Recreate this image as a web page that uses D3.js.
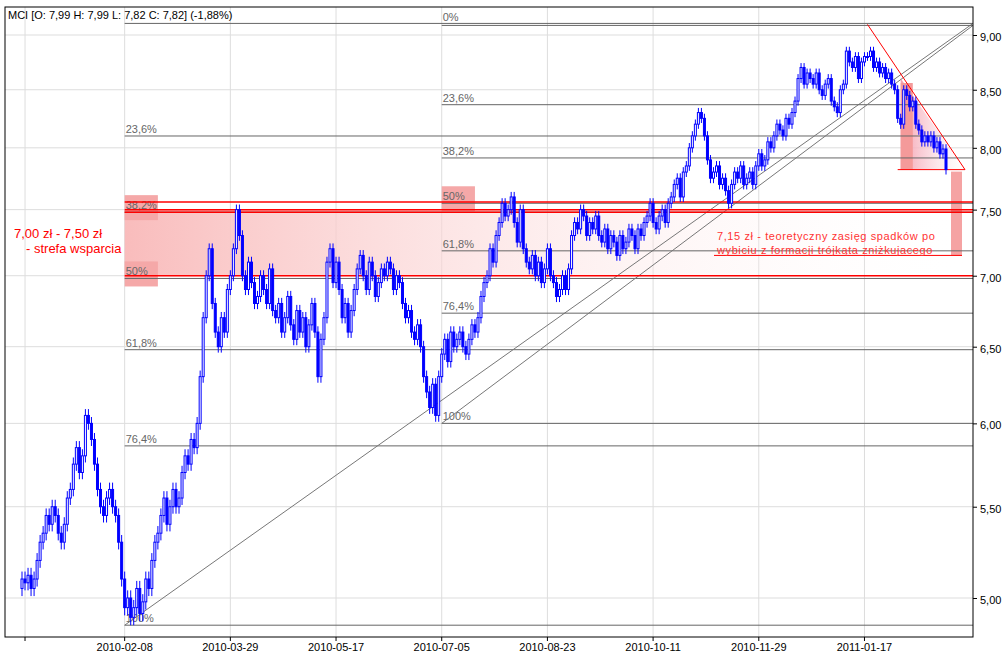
<!DOCTYPE html>
<html><head><meta charset="utf-8">
<script src="https://cdn.jsdelivr.net/npm/d3@7"></script>
<style>body{margin:0;background:#fff}text{font-family:"Liberation Sans",Arial,sans-serif}</style>
</head><body><svg id="c" width="1008" height="657"></svg>
<script>
// daily closes, first day 2009-12-22
var closes = [
5.10,5.08,5.12,5.05,5.10,5.20,5.30,5.35,5.45,5.40,
5.50,5.45,5.35,5.30,5.40,5.55,5.60,5.75,5.85,5.70,
5.80,6.05,6.00,5.90,5.75,5.60,5.50,5.45,5.55,5.60,
5.50,5.45,5.30,5.10,4.95,5.00,4.90,4.95,5.05,4.92,
4.98,5.10,5.05,5.20,5.30,5.35,5.45,5.55,5.40,5.50,
5.60,5.50,5.55,5.70,5.80,5.75,5.90,5.85,6.00,6.30,
6.70,7.00,7.20,6.80,6.60,6.50,6.70,6.60,6.90,7.00,
7.20,7.50,7.30,7.00,6.90,7.10,6.95,6.80,6.85,7.00,
6.90,6.80,7.05,6.75,6.70,6.80,6.60,6.70,6.85,6.65,
6.55,6.75,6.60,6.70,6.50,6.65,6.80,6.60,6.30,6.55,
6.70,7.10,7.20,6.95,7.10,6.90,6.70,6.80,6.60,6.75,
6.90,7.05,7.15,7.00,6.90,7.10,7.00,6.85,6.95,7.05,
7.00,7.10,7.05,6.90,7.00,6.95,6.80,6.70,6.75,6.60,
6.55,6.65,6.50,6.30,6.20,6.10,6.25,6.05,6.30,6.45,
6.55,6.40,6.60,6.50,6.55,6.60,6.50,6.45,6.55,6.65,
6.60,6.70,6.85,6.95,7.00,7.20,7.10,7.30,7.40,7.55,
7.45,7.50,7.60,7.40,7.25,7.50,7.20,7.10,7.05,7.15,
7.00,7.10,6.95,7.05,7.20,7.00,6.95,6.85,6.90,7.00,
6.90,7.05,7.30,7.40,7.35,7.50,7.45,7.30,7.40,7.35,
7.45,7.30,7.25,7.35,7.20,7.30,7.25,7.15,7.30,7.20,
7.25,7.35,7.30,7.20,7.35,7.30,7.40,7.45,7.55,7.40,
7.35,7.45,7.50,7.40,7.55,7.60,7.70,7.75,7.60,7.80,
7.85,8.00,8.10,8.20,8.30,8.25,8.10,7.90,7.75,7.80,
7.85,7.70,7.75,7.65,7.55,7.70,7.80,7.75,7.85,7.70,
7.75,7.80,7.70,7.85,7.95,7.85,7.90,8.05,8.00,8.10,
8.20,8.15,8.10,8.25,8.20,8.30,8.40,8.60,8.70,8.55,
8.65,8.60,8.55,8.65,8.50,8.45,8.55,8.60,8.40,8.35,
8.30,8.50,8.55,8.85,8.75,8.70,8.80,8.60,8.75,8.80,
8.80,8.85,8.70,8.75,8.65,8.70,8.60,8.65,8.55,8.50,
8.25,8.20,8.50,8.45,8.35,8.40,8.20,8.15,8.05,8.10,
8.05,8.10,8.00,8.05,7.95,7.99,7.82];
var firstOpen = 5.05;
var wick = 0.04;
var tickLabels = ["", "2010-02-08","2010-03-29","2010-05-17","2010-07-05","2010-08-23","2010-10-11","2010-11-29","2011-01-17"];
var tickIndex = [1, 34, 69, 104, 139, 174, 209, 244, 279];
var priceTicks = [5.0,5.5,6.0,6.5,7.0,7.5,8.0,8.5,9.0];
var fibLevels = [0, 0.236, 0.382, 0.5, 0.618, 0.764, 1];
var fibA = {start: 34, low: 4.86, high: 9.1, labels: ["", "23,6%","38,2%","50%","61,8%","76,4%","100%"]};
var fibB = {start: 139, low: 6.0, high: 9.1, labels: ["0%","23,6%","38,2%","50%","61,8%","76,4%","100%"]};
var zone = [7.0, 7.5];
var target = 7.15;

var svg = d3.select("#c");
var L = 5, R = 973, T = 7, B = 637;
var x = d3.scaleLinear().domain([0, 306]).range([22, 946]);
var y = d3.scaleLog().domain([5, 9]).range([598, 35]);
var fmt = function(v){ return d3.format(".2f")(v).replace(".", ","); };

var defs = svg.append("defs");
var g1 = defs.append("linearGradient").attr("id","zoneG");
g1.append("stop").attr("offset","0%").attr("stop-color","#f9bcbc");
g1.append("stop").attr("offset","100%").attr("stop-color","#fff").attr("stop-opacity",0);
var g2 = defs.append("linearGradient").attr("id","triG");
g2.append("stop").attr("offset","0%").attr("stop-color","#f4a0b0");
g2.append("stop").attr("offset","100%").attr("stop-color","#fff").attr("stop-opacity",0.3);

// grid
svg.selectAll(".hg").data(priceTicks).enter().append("line")
  .attr("x1",L).attr("x2",R).attr("y1",d=>y(d)).attr("y2",d=>y(d)).attr("stroke","#ddd");
svg.selectAll(".vg").data(tickIndex).enter().append("line")
  .attr("x1",d=>x(d)).attr("x2",d=>x(d)).attr("y1",T).attr("y2",B).attr("stroke","#ddd");

// support zone
svg.append("rect").attr("x",x(34)).attr("width",R-x(34)).attr("y",y(zone[1])).attr("height",y(zone[0])-y(zone[1])).attr("fill","url(#zoneG)");
[[34,0.382,fibA],[34,0.5,fibA],[139,0.5,fibB]].forEach(function(b){
  var f=b[2], p=f.high-b[1]*(f.high-f.low);
  svg.append("rect").attr("x",x(b[0])).attr("y",y(p)-17).attr("width",x(b[0]+11)-x(b[0])).attr("height",25).attr("fill","#f5a8a8");
});

// triangle fill
var triTop = 9.1, triBase = 7.82;
svg.append("path").attr("d","M"+x(291)+","+y(8.6)+"L"+(R-8)+","+y(triBase)+"L"+x(291)+","+y(triBase)+"Z").attr("fill","url(#triG)");
svg.append("rect").attr("x",x(291)).attr("width",x(295)-x(291)).attr("y",y(8.56)).attr("height",y(triBase)-y(8.56)).attr("fill","#f49a9a");
svg.append("rect").attr("x",R-22).attr("width",11).attr("y",y(triBase)+2).attr("height",y(target)-y(triBase)-2).attr("fill","#f5a3a3");

// fib retracements
[fibA, fibB].forEach(function(f, k){
  fibLevels.forEach(function(lv, i){
    var p = f.high - lv*(f.high - f.low);
    svg.append("line").attr("x1",x(f.start)).attr("x2",R).attr("y1",y(p)+(lv===0?k*2-1:0)).attr("y2",y(p)+(lv===0?k*2-1:0)).attr("stroke","#666");
    svg.append("text").attr("x",x(f.start)+1).attr("y",y(p)-3).attr("font-size",11).attr("fill","#666").text(f.labels[i]);
  });
  svg.append("line").attr("x1",x(f.start)).attr("y1",y(f.low)).attr("x2",R).attr("y2",y(f.high)+k*2-1).attr("stroke","#777");
});

// red lines
[7.0, 7.48, 7.5, 7.56].forEach(function(p){
  svg.append("line").attr("x1",x(34)).attr("x2",R).attr("y1",y(p)).attr("y2",y(p)).attr("stroke","#f00").attr("stroke-width",1.5);
});
svg.append("line").attr("x1",x(280)).attr("y1",y(triTop)).attr("x2",R-8).attr("y2",y(triBase)).attr("stroke","#f00");
svg.append("line").attr("x1",x(290)).attr("x2",R-8).attr("y1",y(triBase)).attr("y2",y(triBase)).attr("stroke","#f00");
svg.append("line").attr("x1",714).attr("x2",R-11).attr("y1",y(target)).attr("y2",y(target)).attr("stroke","#f00");

// candles
var data = closes.map(function(c,i){
  var o = i ? closes[i-1] : firstOpen;
  return {i:i, o:o, c:c, h:Math.max(o,c)+wick, l:Math.min(o,c)-wick};
});
var cg = svg.append("g");
cg.selectAll("line").data(data).enter().append("line")
  .attr("x1",d=>x(d.i)).attr("x2",d=>x(d.i)).attr("y1",d=>y(d.h)).attr("y2",d=>y(d.l)).attr("stroke","#00f");
cg.selectAll("rect").data(data).enter().append("rect")
  .attr("x",d=>x(d.i)-1).attr("width",2)
  .attr("y",d=>y(Math.max(d.o,d.c))).attr("height",d=>Math.max(1,Math.abs(y(d.o)-y(d.c))))
  .attr("fill",d=>d.c>=d.o?"#fff":"#00f").attr("stroke","#00f").attr("stroke-width",1);

// annotations
svg.append("text").attr("x",14).attr("y",238).attr("font-size",13).attr("fill","#f00").text("7,00 zł - 7,50 zł");
svg.append("text").attr("x",26).attr("y",253).attr("font-size",13).attr("fill","#f00").text("- strefa wsparcia");
svg.append("text").attr("x",717).attr("y",240).attr("font-size",11).attr("fill","#f33").attr("letter-spacing",0.6).text("7,15 zł - teoretyczny zasięg spadków po");
svg.append("text").attr("x",717).attr("y",254).attr("font-size",11).attr("fill","#f33").attr("letter-spacing",0.6).text("wybiciu z formacji trójkąta zniżkujacego");

// frame and axes
svg.append("rect").attr("x",L).attr("y",T).attr("width",R-L).attr("height",B-T).attr("fill","none").attr("stroke","#000");
svg.append("text").attr("x",8).attr("y",19).attr("font-size",11).text("MCI [O: 7,99  H: 7,99  L: 7,82  C: 7,82] (-1,88%)");
var ya = svg.append("g").attr("transform","translate("+R+",0)").call(d3.axisRight(y).tickValues(priceTicks).tickFormat(fmt).tickSize(4));
ya.select(".domain").remove();
ya.selectAll("text").attr("font-size",11).attr("font-family","Liberation Sans").attr("dy","0.5em");
svg.selectAll(".xl").data(tickIndex).enter().append("text")
  .attr("x",d=>x(d)).attr("y",651).attr("text-anchor","middle").attr("font-size",11).text((d,i)=>tickLabels[i]);
svg.selectAll(".xt").data(tickIndex).enter().append("line")
  .attr("x1",d=>x(d)).attr("x2",d=>x(d)).attr("y1",B).attr("y2",B+4).attr("stroke","#000");
</script></body></html>
